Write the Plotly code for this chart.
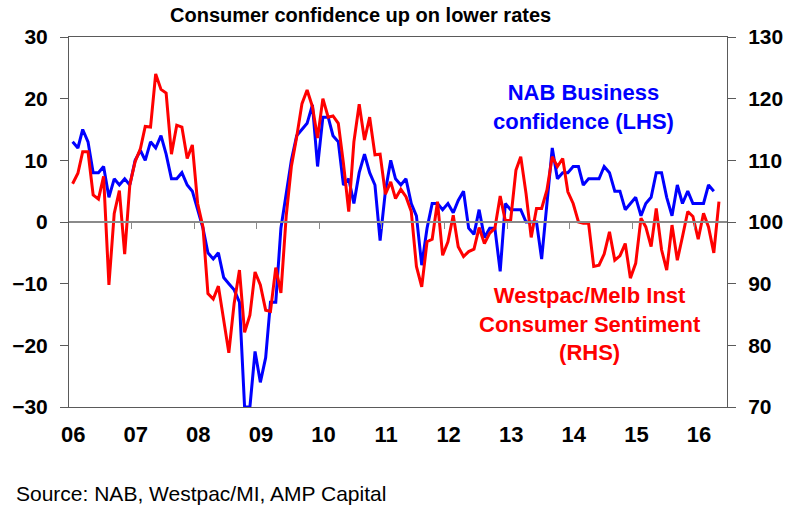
import plotly.graph_objects as go
import pandas as pd

# NAB Business confidence (LHS), monthly from Jan 2006
nab = [13, 12, 15, 13, 8, 8, 9, 4, 7, 6, 7, 6,
       10, 11.6, 10, 13, 12, 14, 11, 7, 7, 8, 6, 5,
       2, -1, -5, -6, -5, -9, -10, -11, -13, -30, -30, -21,
       -26, -22, -13, -13, -1, 5, 10, 14, 15, 16, 19, 9,
       17, 17, 14, 13, 6, 7, 3, 8, 11, 8, 6, -3,
       5, 10, 7, 6, 7, 3, 1, -7, -1, 3, 3, 2,
       3, 1.5, 3.5, 5, -1, -2, 2, -2.5, -1, -1, -8, 3,
       2, 2, 2, 0, 0, 0, -6, 3, 12, 7, 8, 8,
       9, 9, 6, 7, 7, 7, 9, 8, 5, 5, 2, 3,
       4, 1, 3, 4, 8, 8, 4, 1, 6, 3, 5, 3,
       3, 3, 6, 5]

# Westpac/Melbourne Institute Consumer Sentiment (RHS), monthly from Jan 2006
westpac = [106.2, 107.9, 111.4, 111.4, 104.4, 103.7, 107.4, 89.8, 101.4, 105.1, 94.8, 106,
           109.8, 111.9, 115.5, 115.4, 124, 121.5, 120.9, 111, 115.7, 115.4, 110.3, 112.5,
           103, 99.2, 88.4, 87.5, 89.6, 84.1, 78.8, 86.8, 92.2, 82.1, 84.9, 91.9,
           89.8, 85.7, 85.5, 92.6, 88.5, 101, 109, 113.8, 119.2, 121.4, 118.7, 113.6,
           120, 117, 117.2, 116, 109.5, 101.7, 113, 119.1, 113.3, 117, 110.9, 111,
           104.5, 106.5, 103.8, 105.3, 104.1, 101.7, 92.8, 89.5, 96.8, 97.2, 103.3, 94.6,
           96.8, 101.1, 96, 94.4, 95.2, 95.6, 99.1, 96.5, 98.2, 99, 104.2, 100.2,
           100.3, 108.4, 110.6, 104.6, 97.5, 102.2, 102.2, 105.2, 110.6, 109, 110.3, 104.9,
           103, 100, 99.8, 99.8, 92.8, 93, 94.8, 98.4, 93.8, 94.5, 96.5, 90.9,
           93.3, 100.6, 99.2, 96, 102.2, 95.5, 92.2, 99.5, 93.8, 97.6, 101.7, 100.9,
           97.2, 101.4, 99.2, 95, 103.3]

years = [str(y) for y in range(2006, 2017)]
year_labels = ["06", "07", "08", "09", "10", "11", "12", "13", "14", "15", "16"]

dates_nab = pd.date_range("2006-01-01", periods=len(nab), freq="MS") + pd.Timedelta(days=21)
dates_wp = pd.date_range("2006-01-01", periods=len(westpac), freq="MS") + pd.Timedelta(days=21)

FONT = "Liberation Sans, Arial, Helvetica, sans-serif"
FRAME = "#5a5a5a"
ZERO = "#8a8a8a"

fig = go.Figure()
fig.add_trace(go.Scatter(x=dates_nab, y=nab, mode="lines", name="NAB",
                         line=dict(color="#0000FF", width=3), xaxis="x", yaxis="y",
                         showlegend=False))
fig.add_trace(go.Scatter(x=dates_wp, y=westpac, mode="lines", name="Westpac",
                         line=dict(color="#FF0000", width=3), xaxis="x", yaxis="y2",
                         showlegend=False))
# helper (no visible marks) so the zero-line tick axis is drawn
fig.add_trace(go.Scatter(x=dates_nab[:1], y=[None], mode="lines", xaxis="x2", yaxis="y",
                         showlegend=False, hoverinfo="skip"))

x_range = ["2006-01-01", "2016-07-08"]

fig.update_layout(
    width=800, height=519,
    margin=dict(l=67, r=73, t=37, b=112),
    paper_bgcolor="white", plot_bgcolor="white",
    font=dict(family=FONT, color="black"),
    xaxis=dict(range=x_range, type="date",
               tickvals=[y + "-01-26" for y in years], ticktext=year_labels,
               ticks="", showgrid=False, zeroline=False,
               showline=True, mirror=True, linecolor=FRAME, linewidth=1,
               tickfont=dict(size=22, weight="bold", family=FONT),
               ticklabelstandoff=8),
    xaxis2=dict(range=x_range, type="date", overlaying="x", anchor="free", position=0.5,
                side="bottom", tickvals=[y + "-01-01" for y in years[1:]],
                ticks="outside", ticklen=6, tickcolor=ZERO, tickwidth=1,
                showticklabels=False, showgrid=False, zeroline=False,
                showline=True, linecolor=ZERO, linewidth=1.5),
    yaxis=dict(range=[-30, 30], dtick=10, ticks="outside", ticklen=8, tickcolor=FRAME,
               showgrid=False, zeroline=False, showline=True, linecolor=FRAME, linewidth=1,
               tickfont=dict(size=21, weight="bold", family=FONT), ticklabelstandoff=8),
    yaxis2=dict(range=[70, 130], dtick=10, overlaying="y", side="right", anchor="x",
                ticks="outside", ticklen=8, tickcolor=FRAME,
                showgrid=False, zeroline=False, showline=True, linecolor=FRAME, linewidth=1,
                tickfont=dict(size=21, weight="bold", family=FONT), ticklabelstandoff=8),
    annotations=[
        dict(text="Consumer confidence up on lower rates", xref="paper", yref="paper",
             x=0.4435, y=1.0608, xanchor="center", yanchor="middle", showarrow=False,
             font=dict(size=20, weight="bold", color="black", family=FONT)),
        dict(text="NAB Business<br>confidence (LHS)", xref="paper", yref="paper",
             x=0.7817, y=0.811, xanchor="center", yanchor="middle", showarrow=False,
             align="center",
             font=dict(size=22, weight="bold", color="#0000FF", family=FONT)),
        dict(text="Westpac/Melb Inst<br>Consumer Sentiment<br>(RHS)", xref="paper", yref="paper",
             x=0.7923, y=0.223, xanchor="center", yanchor="middle", showarrow=False,
             align="center",
             font=dict(size=22, weight="bold", color="#FF0000", family=FONT)),
        dict(text="Source: NAB, Westpac/MI, AMP Capital", xref="paper", yref="paper",
             x=-0.0842, y=-0.2338, xanchor="left", yanchor="middle", showarrow=False,
             font=dict(size=21, color="black", family=FONT)),
    ],
)

fig.write_html("out.html")
